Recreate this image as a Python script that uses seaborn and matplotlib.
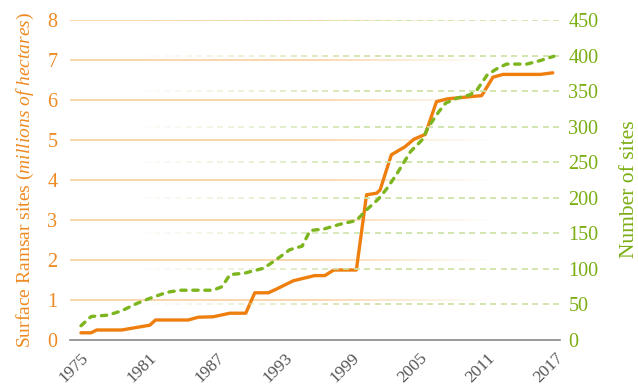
import numpy as np
import pandas as pd
import matplotlib
matplotlib.use("Agg")
import matplotlib.pyplot as plt
from matplotlib.collections import LineCollection
import seaborn as sns

# Surface of Ramsar sites (millions of hectares)
area_years = [1975.0, 1975.9, 1976.4, 1978.6, 1981.1, 1981.6, 1984.5, 1985.4,
              1986.7, 1988.2, 1989.6, 1990.4, 1991.6, 1992.3, 1993.8, 1995.7,
              1996.6, 1997.4, 1999.4, 2000.3, 2001.2, 2001.5, 2002.5, 2003.7,
              2004.5, 2005.5, 2006.5, 2007.5, 2010.5, 2011.5, 2012.4, 2015.7,
              2016.8]
area_values = [0.18, 0.18, 0.25, 0.25, 0.37, 0.50, 0.50, 0.57,
               0.58, 0.67, 0.67, 1.18, 1.18, 1.27, 1.48, 1.61,
               1.61, 1.75, 1.75, 3.63, 3.67, 3.75, 4.63, 4.83,
               5.02, 5.14, 5.96, 6.03, 6.11, 6.57, 6.64, 6.64,
               6.68]

# Number of Ramsar sites
sites_years = [1975.0, 1975.9, 1977.4, 1978.6, 1979.9, 1981.0, 1982.6, 1983.8,
               1986.7, 1987.5, 1988.2, 1989.5, 1991.2, 1992.3, 1993.5, 1994.6,
               1995.3, 1996.5, 1998.0, 1999.4, 2000.3, 2001.4, 2002.1, 2003.0,
               2004.2, 2005.2, 2005.8, 2006.7, 2007.3, 2008.3, 2009.5, 2010.1,
               2011.0, 2011.9, 2012.7, 2014.5, 2015.7, 2016.9]
sites_values = [20, 33, 35, 41, 51, 58, 67, 70,
                70, 75, 92, 94, 101, 113, 127, 132,
                154, 156, 163, 168, 183, 199, 213, 234,
                265, 281, 300, 321, 333, 340, 345, 352,
                373, 382, 388, 388, 393, 399]

year_ticks = [1975, 1981, 1987, 1993, 1999, 2005, 2011, 2017]
area_ticks = [0, 1, 2, 3, 4, 5, 6, 7, 8]
sites_ticks = [0, 50, 100, 150, 200, 250, 300, 350, 400, 450]

ORANGE = "#EE7F0E"
ORANGE_TXT = "#EE8A22"
ORANGE_GRID = "#F9D3A6"
GREEN = "#7DB51E"
GREEN_TXT = "#7AAE12"
GREEN_GRID = "#CFE4AA"
GREY = "#555555"

sns.set_style("white")
plt.rcParams["font.family"] = ["Liberation Serif", "DejaVu Serif"]
plt.rcParams["mathtext.fontset"] = "custom"
plt.rcParams["mathtext.rm"] = "Liberation Serif"
plt.rcParams["mathtext.it"] = "Liberation Serif:italic"

fig = plt.figure(figsize=(6.38, 3.87), dpi=100)
ax = fig.add_axes([70 / 638, 47 / 387, 490 / 638, 320 / 387])
ax2 = ax.twinx()

area_df = pd.DataFrame({"year": area_years, "area": area_values})
sites_df = pd.DataFrame({"year": sites_years, "sites": sites_values})

# Orange solid grid, fading out towards the right
xs = np.linspace(0, 1, 200)
segs, cols = [], []
for v in area_ticks[1:]:
    for a, b in zip(xs[:-1], xs[1:]):
        m = (a + b) / 2
        alpha = np.clip((0.86 - m) / (0.86 - 0.5), 0, 1)
        segs.append([(a, v), (b, v)])
        cols.append(matplotlib.colors.to_rgba(ORANGE_GRID, alpha))
lc = LineCollection(segs, colors=cols, linewidths=1.3,
                    transform=ax.get_yaxis_transform(), zorder=0)
ax.add_collection(lc)

# Green dashed grid, fading out towards the left
dash, period = 6 / 490, 10.5 / 490
segs, cols = [], []
for v in sites_ticks[1:]:
    for s in np.arange(0, 1, period):
        m = s + dash / 2
        alpha = np.clip((m - 0.12) / (0.6 - 0.12), 0, 1)
        if alpha <= 0:
            continue
        segs.append([(s, v), (min(s + dash, 1), v)])
        cols.append(matplotlib.colors.to_rgba(GREEN_GRID, alpha))
lc2 = LineCollection(segs, colors=cols, linewidths=1.3,
                     transform=ax2.get_yaxis_transform(), zorder=0)
ax2.add_collection(lc2)

sns.lineplot(data=area_df, x="year", y="area", ax=ax, color=ORANGE,
             linewidth=2.4, zorder=3, legend=False)
sns.lineplot(data=sites_df, x="year", y="sites", ax=ax2, color=GREEN,
             linewidth=2.4, zorder=3, legend=False)
ax2.lines[-1].set_dashes([1.6, 2.0])
ax2.lines[-1].set_dash_capstyle("round")

ax.set_xlim(1974.03, 2017.44)
ax.set_ylim(0, 8)
ax2.set_ylim(0, 450)

ax.set_xticks(year_ticks)
ax.set_xticklabels([str(y) for y in year_ticks], rotation=45, ha="right",
                   va="top", rotation_mode="anchor", fontsize=12.5, color=GREY)
ax.tick_params(axis="x", length=3.5, width=1, color="#888888", pad=4)

ax.set_yticks(area_ticks)
ax.set_yticklabels([str(v) for v in area_ticks], fontsize=14.5, color=ORANGE_TXT)
ax.tick_params(axis="y", length=0, pad=9)
ax2.set_yticks(sites_ticks)
ax2.set_yticklabels([str(v) for v in sites_ticks], fontsize=14.5, color=GREEN_TXT)
ax2.tick_params(axis="y", length=0, pad=6)

ax.set_xlabel("")
ax.set_ylabel(r"Surface Ramsar sites $\mathit{(millions\ of\ hectares)}$",
              fontsize=14, color=ORANGE_TXT, labelpad=8)
ax2.set_ylabel("Number of sites", fontsize=15.5, color=GREEN_TXT)
ax2.yaxis.set_label_coords(1.122, 0.47)

for a in (ax, ax2):
    for side in ("top", "left", "right"):
        a.spines[side].set_visible(False)
    a.spines["bottom"].set_color("#888888")
    a.spines["bottom"].set_linewidth(1.2)
    a.grid(False)
ax2.spines["bottom"].set_visible(False)

fig.savefig("out.png", dpi=100, facecolor="white")
